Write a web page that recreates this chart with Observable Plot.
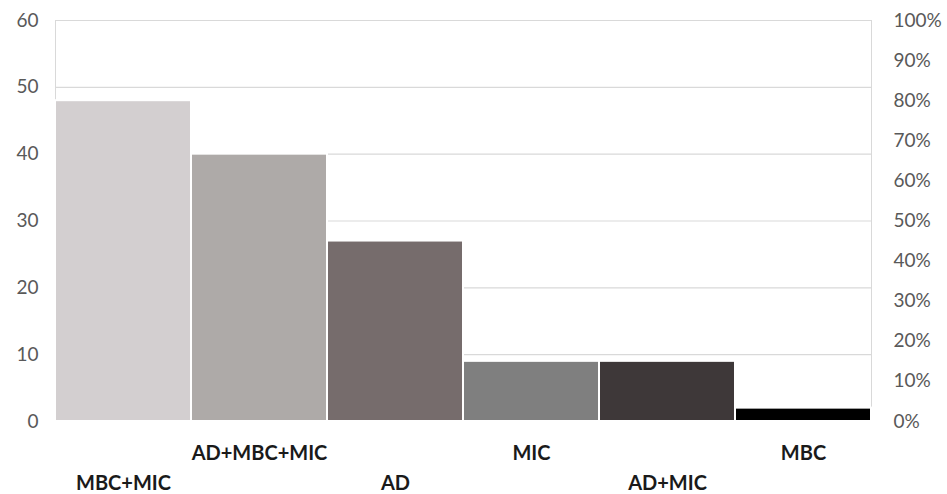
<!DOCTYPE html>
<html>
<head>
<meta charset="utf-8">
<script src="https://cdn.jsdelivr.net/npm/d3@7"></script>
<script src="https://cdn.jsdelivr.net/npm/@observablehq/plot@0.6"></script>
<style>
  body { margin: 0; background: #fff; }
  #chart svg { font-family: Lato, "Open Sans", sans-serif; }
</style>
</head>
<body>
<div id="chart"></div>
<script>
const categories = ["MBC+MIC", "AD+MBC+MIC", "AD", "MIC", "AD+MIC", "MBC"];
const counts = [48, 40, 27, 9, 9, 2];
const colors = ["#d3cfd0", "#aeaaa8", "#766c6c", "#7f7f7f", "#3e3839", "#000000"];
const leftTicks = [0, 10, 20, 30, 40, 50, 60];
const rightTickLabels = ["0%", "10%", "20%", "30%", "40%", "50%", "60%", "70%", "80%", "90%", "100%"];
const yMax = 60;

const data = categories.map((c, i) => ({category: c, count: counts[i], color: colors[i]}));
const rightTicks = rightTickLabels.map((_, i) => i * yMax / (rightTickLabels.length - 1));

const chart = Plot.plot({
  width: 947,
  height: 494,
  marginLeft: 55,
  marginRight: 76,
  marginTop: 20,
  marginBottom: 73,
  style: {fontSize: "19px", background: "#fff"},
  x: {domain: categories, padding: 0},
  y: {domain: [0, yMax]},
  marks: [
    Plot.ruleY(leftTicks.filter(d => d > 0), {stroke: "#d9d9d9", strokeWidth: 1.2}),
    Plot.frame({stroke: "#d9d9d9"}),
    Plot.barY(data, {x: "category", y: "count", fill: "color", stroke: "#fff", strokeWidth: 2}),
    Plot.axisY(leftTicks, {anchor: "left", tickSize: 0, tickPadding: 17, fill: "#595959", label: null}),
    Plot.axisY(rightTicks, {anchor: "right", tickSize: 0, tickPadding: 22, fill: "#595959", label: null,
      tickFormat: (d, i) => rightTickLabels[i], textAnchor: "start"}),
    Plot.axisX(categories.filter((d, i) => i % 2 === 1), {tickSize: 0, tickPadding: 24, fontWeight: "bold", fontSize: 20, fill: "#1a1a1a", label: null}),
    Plot.axisX(categories.filter((d, i) => i % 2 === 0), {tickSize: 0, tickPadding: 54, fontWeight: "bold", fontSize: 20, fill: "#1a1a1a", label: null})
  ]
});
document.getElementById("chart").append(chart);
</script>
</body>
</html>
